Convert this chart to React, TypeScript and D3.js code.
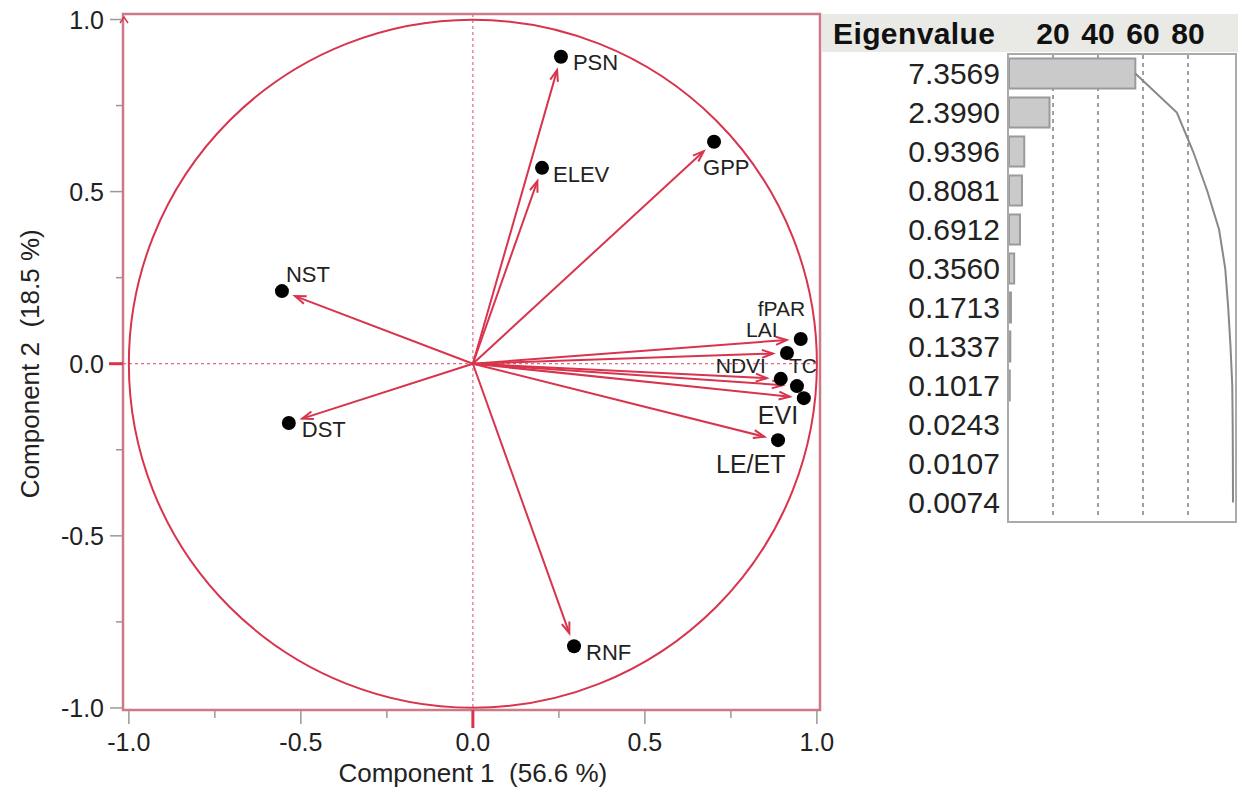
import React from "react";
import * as d3 from "d3";

// ---------- Data ----------
const variables = ["PSN", "ELEV", "GPP", "NST", "DST", "RNF", "fPAR", "LAI", "NDVI", "TC", "EVI", "LE/ET"];
const comp1 = [0.256, 0.201, 0.701, -0.555, -0.535, 0.294, 0.953, 0.913, 0.895, 0.942, 0.962, 0.887];
const comp2 = [0.892, 0.569, 0.645, 0.211, -0.172, -0.821, 0.072, 0.031, -0.044, -0.065, -0.1, -0.222];

const axisTicks = [-1.0, -0.5, 0.0, 0.5, 1.0];
const axisMinorTicks = [-0.75, -0.25, 0.25, 0.75];
const xTitle = "Component 1  (56.6 %)";
const yTitle = "Component 2  (18.5 %)";

const eigenvalues = [7.3569, 2.399, 0.9396, 0.8081, 0.6912, 0.356, 0.1713, 0.1337, 0.1017, 0.0243, 0.0107, 0.0074];
const eigenLabels = ["7.3569", "2.3990", "0.9396", "0.8081", "0.6912", "0.3560", "0.1713", "0.1337", "0.1017", "0.0243", "0.0107", "0.0074"];
const percentTicks = [20, 40, 60, 80];

// ---------- Label styling (offsets from the point, px) ----------
const labelStyle: Record<string, { dx: number; dy: number; size: number }> = {
  PSN: { dx: 12, dy: 13, size: 22 },
  ELEV: { dx: 11, dy: 14, size: 22 },
  GPP: { dx: -11, dy: 33, size: 22 },
  NST: { dx: 4, dy: -9, size: 22 },
  DST: { dx: 13, dy: 14, size: 22 },
  RNF: { dx: 12, dy: 14, size: 22 },
  fPAR: { dx: -43, dy: -23, size: 21 },
  LAI: { dx: -41, dy: -16, size: 21 },
  NDVI: { dx: -65, dy: -6, size: 21 },
  TC: { dx: -8, dy: -13, size: 21 },
  EVI: { dx: -46, dy: 26, size: 25 },
  "LE/ET": { dx: -62, dy: 33, size: 25 },
};

const FONT = "'Liberation Sans', Arial, Helvetica, sans-serif";
const RED = "#d8344e";
const FRAME = "#cc7a88";

export default function App() {
  // Loading plot scales
  const x = d3.scaleLinear().domain([-1.017, 1.009]).range([123, 820]);
  const y = d3.scaleLinear().domain([-1.006, 1.016]).range([710, 14]);
  const [fx0, fx1] = x.range();
  const [fy0, fy1] = y.range();
  const cx = x(0);
  const cy = y(0);
  const r = x(1) - x(0);

  // Eigenvalue panel scales
  const total = d3.sum(eigenvalues);
  const pct = eigenvalues.map((v) => (v / total) * 100);
  const cum = d3.cumsum(pct);
  const px = d3.scaleLinear().domain([0, 100]).range([1008, 1233]);
  const rows = d3
    .scaleBand<number>()
    .domain(eigenvalues.map((_, i) => i))
    .range([54, 522])
    .paddingInner(0.23)
    .paddingOuter(0.115);
  const rowC = (i: number) => (rows(i) as number) + rows.bandwidth() / 2;
  const cumLine = d3
    .line<number>()
    .x((d) => px(d))
    .y((_, i) => rowC(i));

  const arrows = variables.map((name, i) => {
    const tx = x(comp1[i]);
    const ty = y(comp2[i]);
    const dx = tx - cx;
    const dy = ty - cy;
    const len = Math.sqrt(dx * dx + dy * dy);
    const ux = dx / len;
    const uy = dy / len;
    const ex = tx - ux * 14;
    const ey = ty - uy * 14;
    const ah = 11;
    const aw = 4;
    const bx = ex - ux * ah;
    const by = ey - uy * ah;
    const head = `M${bx - uy * aw},${by + ux * aw} L${ex},${ey} L${bx + uy * aw},${by - ux * aw}`;
    return { name, tx, ty, ex, ey, head };
  });

  return (
    <svg
      width={1238}
      height={790}
      style={{ position: "absolute", left: 0, top: 0, background: "#fff" }}
      fontFamily={FONT}
    >
      {/* zero reference lines */}
      <line x1={cx} x2={cx} y1={fy1} y2={fy0} stroke="#e06a80" strokeWidth={1.2} strokeDasharray="3,3" />
      <line x1={fx0} x2={fx1} y1={cy} y2={cy} stroke="#e06a80" strokeWidth={1.2} strokeDasharray="3,3" />

      {/* unit circle */}
      <circle cx={cx} cy={cy} r={r} fill="none" stroke={RED} strokeWidth={2} />

      {/* arrows */}
      {arrows.map((a) => (
        <g key={"a" + a.name}>
          <line x1={cx} y1={cy} x2={a.ex} y2={a.ey} stroke={RED} strokeWidth={2} />
          <path d={a.head} fill="none" stroke={RED} strokeWidth={2} strokeLinejoin="miter" />
        </g>
      ))}

      {/* points */}
      {arrows.map((a) => (
        <circle key={"p" + a.name} cx={a.tx} cy={a.ty} r={7} fill="#000" />
      ))}

      {/* point labels */}
      {arrows.map((a) => {
        const s = labelStyle[a.name];
        return (
          <text key={"l" + a.name} x={a.tx + s.dx} y={a.ty + s.dy} fontSize={s.size} fill="#222">
            {a.name}
          </text>
        );
      })}

      {/* frame */}
      <rect x={fx0} y={fy1} width={fx1 - fx0} height={fy0 - fy1} fill="none" stroke={FRAME} strokeWidth={2.5} />
      {/* small arrow on top-left corner */}
      <path d={`M${fx0 - 3},${fy1 + 9} L${fx0 + 1},${fy1 + 3} L${fx0 + 5},${fy1 + 9}`} fill="none" stroke={RED} strokeWidth={1.5} />

      {/* x axis ticks */}
      {axisTicks.map((t) => (
        <g key={"xt" + t}>
          <line x1={x(t)} x2={x(t)} y1={fy0 + 1} y2={fy0 + 14} stroke="#999" strokeWidth={1.5} />
          <text x={x(t)} y={751} textAnchor="middle" fontSize={25} fill="#222">
            {t.toFixed(1)}
          </text>
        </g>
      ))}
      {axisMinorTicks.map((t) => (
        <line key={"xm" + t} x1={x(t)} x2={x(t)} y1={fy0 + 1} y2={fy0 + 8} stroke="#999" strokeWidth={1.5} />
      ))}
      <line x1={cx} x2={cx} y1={fy0} y2={fy0 + 18} stroke={RED} strokeWidth={3} />

      {/* y axis ticks */}
      {axisTicks.map((t) => (
        <g key={"yt" + t}>
          <line x1={fx0 - 13} x2={fx0 - 1} y1={y(t)} y2={y(t)} stroke="#999" strokeWidth={1.5} />
          <text x={104} y={y(t)} dy="0.36em" textAnchor="end" fontSize={25} fill="#222">
            {t.toFixed(1)}
          </text>
        </g>
      ))}
      {axisMinorTicks.map((t) => (
        <line key={"ym" + t} x1={fx0 - 7} x2={fx0 - 1} y1={y(t)} y2={y(t)} stroke="#999" strokeWidth={1.5} />
      ))}
      <line x1={fx0 - 14} x2={fx0} y1={cy} y2={cy} stroke={RED} strokeWidth={3} />

      {/* axis titles */}
      <text x={cx} y={782} textAnchor="middle" fontSize={26} fill="#222" style={{ whiteSpace: "pre" }}>
        {xTitle}
      </text>
      <text
        transform={`translate(39,${cy}) rotate(-90)`}
        textAnchor="middle"
        fontSize={26}
        fill="#222"
        style={{ whiteSpace: "pre" }}
      >
        {yTitle}
      </text>

      {/* ---------- Eigenvalue panel ---------- */}
      <rect x={822} y={14} width={416} height={38} fill="#e9e9e6" />
      <text x={833} y={44} fontSize={30} fontWeight="bold" fill="#111" letterSpacing={0.4}>
        Eigenvalue
      </text>
      {percentTicks.map((t) => (
        <text key={"ph" + t} x={px(t)} y={44} textAnchor="middle" fontSize={30} fontWeight="bold" fill="#111">
          {t}
        </text>
      ))}

      {percentTicks.map((t) => (
        <line
          key={"pg" + t}
          x1={px(t)}
          x2={px(t)}
          y1={55}
          y2={518}
          stroke="#888"
          strokeWidth={1.6}
          strokeDasharray="4,4"
        />
      ))}

      {eigenvalues.map((v, i) => (
        <g key={"ev" + i}>
          {pct[i] > 0.15 && (
            <rect
              x={px(0) + 1}
              y={rows(i) as number}
              width={Math.max(px(pct[i]) - px(0) - 1, 0)}
              height={rows.bandwidth()}
              fill="#cacaca"
              stroke="#9a9a9a"
              strokeWidth={2}
            />
          )}
          <text x={1000} y={rowC(i)} dy="0.36em" textAnchor="end" fontSize={30} fill="#222">
            {eigenLabels[i]}
          </text>
        </g>
      ))}

      <path d={cumLine(cum) || ""} fill="none" stroke="#888" strokeWidth={2} />

      <rect x={px(0)} y={54} width={1236 - px(0)} height={468} fill="none" stroke="#aaa" strokeWidth={2} />
    </svg>
  );
}
